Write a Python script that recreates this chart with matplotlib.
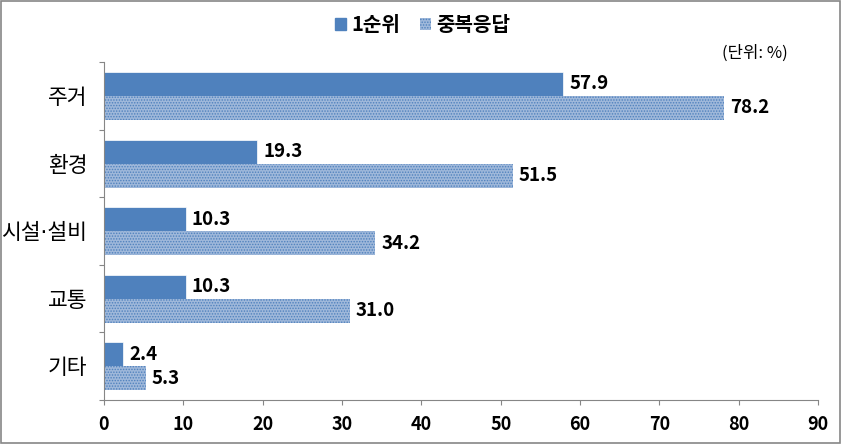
import numpy as np
import matplotlib
matplotlib.use("Agg")
import matplotlib.pyplot as plt
from matplotlib.patches import Rectangle

plt.rcParams['font.family'] = ['Noto Sans CJK KR', 'DejaVu Sans']
plt.rcParams['hatch.linewidth'] = 0.7

categories = ['주거', '환경', '시설·설비', '교통', '기타']
first_rank = [57.9, 19.3, 10.3, 10.3, 2.4]
multi_resp = [78.2, 51.5, 34.2, 31.0, 5.3]
series_names = ['1순위', '중복응답']
x_ticks = [0, 10, 20, 30, 40, 50, 60, 70, 80, 90]

BLUE = '#4f81bd'
LIGHT = '#9fb8da'
GRAY = '#868686'

fig = plt.figure(figsize=(8.42, 4.44), dpi=100)
ax = fig.add_axes([0.1235, 0.099, 0.848, 0.761])

n = len(categories)
centers = np.arange(n)[::-1] + 0.5
bh = 0.355
ax.barh(centers + bh / 2, first_rank, height=bh, color=BLUE,
        edgecolor='white', linewidth=0.5)
ax.barh(centers - bh / 2, multi_resp, height=bh, color=LIGHT,
        edgecolor=BLUE, linewidth=0, hatch='......')

num_font = dict(fontsize=13.5, fontweight='bold')
for c, v1, v2 in zip(centers, first_rank, multi_resp):
    ax.text(v1 + 0.75, c + bh / 2, f'{v1:.1f}', va='center', ha='left', **num_font)
    ax.text(v2 + 0.75, c - bh / 2, f'{v2:.1f}', va='center', ha='left', **num_font)

ax.set_xlim(0, 90)
ax.set_ylim(0, n)
ax.set_xticks(x_ticks)
ax.set_xticklabels([str(t) for t in x_ticks], fontsize=13, fontweight='bold')
ax.set_yticks(np.arange(n + 1))
ax.set_yticklabels([])
ax.set_yticks(centers, minor=True)
# DejaVu first so the middle dot stays narrow; Hangul falls back to Noto
ax.set_yticklabels(categories, minor=True, fontsize=15.5,
                   family=['DejaVu Sans', 'Noto Sans CJK KR'])
ax.tick_params(axis='y', which='minor', length=0, pad=12)
ax.tick_params(axis='y', which='major', length=3.5, color=GRAY, direction='out')
ax.tick_params(axis='x', length=3.5, color=GRAY, direction='out', pad=7)
for s in ['top', 'right']:
    ax.spines[s].set_visible(False)
for s in ['left', 'bottom']:
    ax.spines[s].set_color(GRAY)

# legend
h1 = Rectangle((0, 0), 1, 1, color=BLUE)
h2 = Rectangle((0, 0), 1, 1, facecolor=LIGHT, edgecolor=BLUE, linewidth=0, hatch='......')
fig.legend([h1, h2], series_names, loc='center', bbox_to_anchor=(0.502, 0.944),
           ncol=2, frameon=False, handlelength=0.55, handleheight=0.55,
           handletextpad=0.25, columnspacing=1.0,
           prop={'family': ['Noto Sans CJK KR'], 'weight': 'bold', 'size': 14.5})

fig.text(0.897, 0.881, '(단위: %)', ha='center', va='center', fontsize=12)

# outer frame
fig.add_artist(Rectangle((0.001, 0.002), 0.997, 0.995, transform=fig.transFigure,
                         fill=False, edgecolor=GRAY, linewidth=1.2))

fig.savefig('out.png', dpi=100)
